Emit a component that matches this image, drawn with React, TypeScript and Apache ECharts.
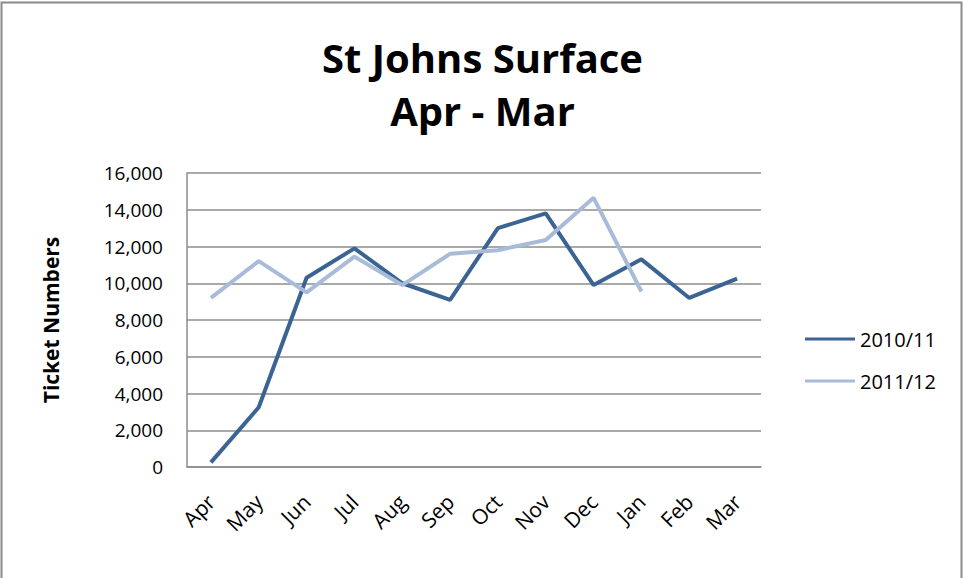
import React, { useEffect, useRef } from "react";
import * as echarts from "echarts";

const months = ["Apr", "May", "Jun", "Jul", "Aug", "Sep", "Oct", "Nov", "Dec", "Jan", "Feb", "Mar"];
const series2010 = [250, 3250, 10300, 11900, 10000, 9100, 13000, 13800, 9900, 11300, 9200, 10250];
const series2011 = [9200, 11200, 9500, 11450, 9900, 11600, 11800, 12350, 14650, 9550];
const seriesNames = ["2010/11", "2011/12"];
const titleText = "St Johns Surface\nApr - Mar";
const yAxisName = "Ticket Numbers";

const FONT = "'Open Sans', 'Noto Sans', sans-serif";

export default function App() {
  const ref = useRef<HTMLDivElement>(null);
  useEffect(() => {
    if (!ref.current) return;
    const chart = echarts.init(ref.current, null, { renderer: "svg" });
    chart.setOption({
      animation: false,
      backgroundColor: "#ffffff",
      graphic: [
        {
          type: "rect",
          shape: { x: 1.5, y: 2.5, width: 960, height: 590 },
          style: { fill: "none", stroke: "#8a8a8a", lineWidth: 2 },
          silent: true,
        },
      ],
      title: {
        text: titleText,
        left: "center",
        top: 26,
        textStyle: {
          fontFamily: FONT,
          fontWeight: "bold",
          fontSize: 40,
          lineHeight: 53,
          color: "#000000",
        },
      },
      legend: {
        orient: "vertical",
        left: 800,
        top: 324,
        itemWidth: 50,
        itemHeight: 3,
        itemGap: 22,
        icon: "rect",
        data: seriesNames,
        textStyle: { fontFamily: FONT, fontSize: 20, color: "#000000" },
      },
      grid: { left: 187, right: 204, top: 173, bottom: 111, containLabel: false },
      xAxis: {
        type: "category",
        data: months,
        boundaryGap: true,
        axisLine: { show: true, lineStyle: { color: "#8c8c8c", width: 1.5 } },
        axisTick: { show: false },
        axisLabel: {
          rotate: 45,
          fontFamily: FONT,
          fontSize: 21,
          color: "#000000",
          margin: 31,
        },
      },
      yAxis: {
        type: "value",
        min: 0,
        max: 16000,
        interval: 2000,
        name: yAxisName,
        nameLocation: "middle",
        nameGap: 126,
        nameRotate: 90,
        nameTextStyle: { fontFamily: FONT, fontSize: 21, fontWeight: "bold", color: "#000000" },
        axisLine: { show: true, lineStyle: { color: "#8c8c8c", width: 1.5 } },
        axisTick: { show: false },
        splitLine: { show: true, lineStyle: { color: "#8c8c8c", width: 1.5 } },
        axisLabel: {
          fontFamily: FONT,
          fontSize: 19,
          color: "#000000",
          margin: 24,
          formatter: (v: number) => v.toLocaleString("en-US"),
        },
      },
      series: [
        {
          name: seriesNames[0],
          type: "line",
          data: series2010,
          symbol: "none",
          lineStyle: { color: "#3B6494", width: 4 },
          itemStyle: { color: "#3B6494" },
        },
        {
          name: seriesNames[1],
          type: "line",
          data: series2011,
          symbol: "none",
          lineStyle: { color: "#A8BBD8", width: 4 },
          itemStyle: { color: "#A8BBD8" },
        },
      ],
    });
    return () => chart.dispose();
  }, []);
  return (
    <div
      ref={ref}
      style={{ position: "fixed", left: 0, top: 0, width: 965, height: 578 }}
    />
  );
}
